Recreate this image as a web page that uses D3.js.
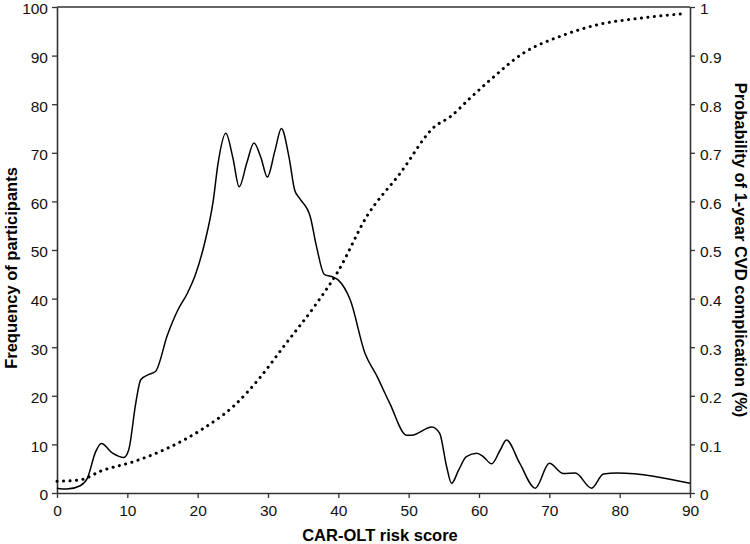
<!DOCTYPE html>
<html>
<head>
<meta charset="utf-8">
<script src="https://cdn.jsdelivr.net/npm/d3@7"></script>
<style>
  body { margin: 0; background: #fff; }
  svg { font-family: "Liberation Sans", Arial, sans-serif; }
</style>
</head>
<body>
<svg id="chart" width="750" height="544"></svg>
<script>
// frequency of participants by risk score (solid line)
var freqScore = [0, 1.4, 3.3, 4.3, 5.5, 6.3, 7.9, 9.5, 10.2, 11.2, 11.9, 12.9, 14, 15.7, 17.2, 18.5, 19.7, 21, 22.2, 22.9, 24, 25, 25.9, 27, 28, 29, 29.9, 31, 31.9, 33, 33.8, 34.5, 36, 36.9, 38, 39.3, 40, 41.7, 43.8, 45.4, 47.3, 49.7, 50.4, 53.3, 54.4, 55.4, 56.1, 57.1, 58.2, 59.7, 60.6, 61.8, 63, 63.9, 65.8, 68, 70, 72, 73.7, 76, 77.7, 79.6, 90];
var freqValue = [1, 0.8, 1.5, 3, 8.5, 10.2, 8.2, 7.3, 8.9, 18.5, 23.3, 24.3, 25, 32.5, 37.7, 41, 45, 51.5, 60, 67.8, 74, 69, 63, 68, 72, 69, 65, 70.5, 75, 69, 62.3, 60.6, 56.9, 50.7, 45, 44.4, 43.8, 39.7, 28.7, 24.3, 18.5, 11.9, 11.9, 13.6, 12.3, 5.4, 2, 4.7, 7.5, 8.2, 7.5, 6, 8.8, 10.9, 6.1, 1, 6.1, 4, 4.1, 1, 3.9, 4.1, 2];

// probability of 1-year CVD complication (dotted line)
var probScore = [0, 3.3, 6.2, 11, 15.7, 20.5, 25.2, 29, 32.2, 36.9, 40, 44, 48.8, 53.7, 55.9, 58.7, 61.6, 66.3, 72, 76.7, 82.9, 89];
var probValue = [0.024, 0.027, 0.045, 0.065, 0.092, 0.13, 0.18, 0.24, 0.301, 0.39, 0.457, 0.568, 0.658, 0.754, 0.774, 0.812, 0.85, 0.905, 0.942, 0.963, 0.977, 0.986];

var xTicks = [0, 10, 20, 30, 40, 50, 60, 70, 80, 90];
var leftTicks = [0, 10, 20, 30, 40, 50, 60, 70, 80, 90, 100];
var rightTicks = [0, 0.1, 0.2, 0.3, 0.4, 0.5, 0.6, 0.7, 0.8, 0.9, 1];

var svg = d3.select("#chart");
var margin = {left: 57, right: 60, top: 7, bottom: 51};
var width = 750 - margin.left - margin.right;
var height = 544 - margin.top - margin.bottom;
var axisColor = "#333";

var g = svg.append("g")
    .attr("transform", "translate(" + margin.left + "," + margin.top + ")");

var xs = d3.scaleLinear().domain([0, 90]).range([0, width]);
var ysLeft = d3.scaleLinear().domain([0, 100]).range([height, 0]);
var ysRight = d3.scaleLinear().domain([0, 1]).range([height, 0]);

// top frame line
g.append("line")
    .attr("x1", 0).attr("x2", width)
    .attr("y1", 0).attr("y2", 0)
    .attr("stroke", axisColor)
    .attr("stroke-width", 1.6);

var xAxis = d3.axisBottom(xs).tickValues(xTicks).tickSize(5).tickPadding(7).tickSizeOuter(0).tickFormat(d3.format("d"));
var yAxis = d3.axisLeft(ysLeft).tickValues(leftTicks).tickSize(5).tickPadding(4).tickSizeOuter(0).tickFormat(d3.format("d"));
var y2Axis = d3.axisRight(ysRight).tickValues(rightTicks).tickSize(5).tickPadding(5).tickSizeOuter(0).tickFormat(function(d) { return String(d); });

function styleAxis(sel) {
    sel.select(".domain").attr("stroke", axisColor).attr("stroke-width", 1.6);
    sel.selectAll(".tick line").attr("stroke", axisColor).attr("stroke-width", 1.3);
    sel.selectAll("text").attr("fill", "#111").style("font-size", "15.5px")
        .style("font-family", "'Liberation Sans', Arial, sans-serif");
}

g.append("g").attr("transform", "translate(0," + height + ")").call(xAxis).call(styleAxis);
g.append("g").call(yAxis).call(styleAxis).selectAll("text").attr("dy", "0.45em");
g.append("g").attr("transform", "translate(" + width + ",0)").call(y2Axis).call(styleAxis).selectAll("text").attr("dy", "0.45em");

var freqLine = d3.line()
    .x(function(d, i) { return xs(freqScore[i]); })
    .y(function(d) { return ysLeft(d); })
    .curve(d3.curveMonotoneX);

var probLine = d3.line()
    .x(function(d, i) { return xs(probScore[i]); })
    .y(function(d) { return ysRight(d); })
    .curve(d3.curveMonotoneX);

g.append("path")
    .attr("d", probLine(probValue))
    .attr("fill", "none")
    .attr("stroke", "#000")
    .attr("stroke-width", 3)
    .attr("stroke-linecap", "round")
    .attr("stroke-dasharray", "0.1,6.4");

g.append("path")
    .attr("d", freqLine(freqValue))
    .attr("fill", "none")
    .attr("stroke", "#000")
    .attr("stroke-width", 1.5);

// axis titles
svg.append("text")
    .attr("x", 380).attr("y", 541)
    .attr("text-anchor", "middle")
    .style("font-size", "16.5px").style("font-weight", "bold")
    .text("CAR-OLT risk score");

svg.append("text")
    .attr("transform", "translate(17,268) rotate(-90)")
    .attr("text-anchor", "middle")
    .style("font-size", "16.5px").style("font-weight", "bold")
    .text("Frequency of participants");

svg.append("text")
    .attr("transform", "translate(735,250) rotate(90)")
    .attr("text-anchor", "middle")
    .style("font-size", "16.5px").style("font-weight", "bold")
    .text("Probability of 1-year CVD complication (%)");
</script>
</body>
</html>
